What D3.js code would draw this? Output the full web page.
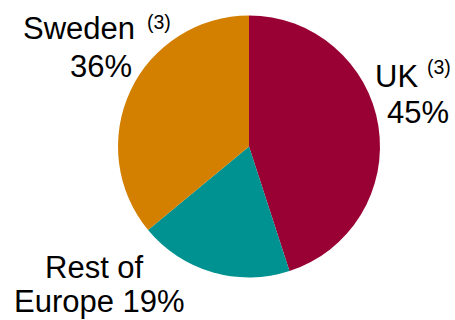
<!DOCTYPE html>
<html>
<head>
<meta charset="utf-8">
<script src="https://cdn.jsdelivr.net/npm/d3@7/dist/d3.min.js"></script>
<style>
  html, body { margin: 0; padding: 0; background: #fff; }
  svg { display: block; }
  text { font-family: "Liberation Sans", Arial, sans-serif; fill: #000; }
</style>
</head>
<body>
<svg id="chart" width="455" height="320"></svg>
<script>
// Share of total by region (percent)
const regions = ["UK", "Rest of Europe", "Sweden"];
const shares = [45, 19, 36];
const colors = ["#990033", "#009290", "#D37F00"];
const footnotes = ["(3)", "", "(3)"];

const svg = d3.select("#chart");
const cx = 249, cy = 146.5, radius = 131;

const pie = d3.pie().sort(null).value(d => d)(shares);
const arc = d3.arc().innerRadius(0).outerRadius(radius);

svg.append("g")
  .attr("transform", `translate(${cx},${cy})`)
  .selectAll("path")
  .data(pie)
  .join("path")
  .attr("d", arc)
  .attr("fill", (d, i) => colors[i]);

// Label placement: left edge and baseline of each line, plus footnote marker
const labelLayout = [
  { x1: 375, y1: 87, x2: 387, y2: 123, fx: 427, fy: 74, lines: ["UK", shares[0] + "%"] },
  { x1: 45, y1: 278, x2: 14, y2: 312, lines: ["Rest of", "Europe " + shares[1] + "%"] },
  { x1: 23, y1: 39, x2: 70, y2: 77, fx: 147, fy: 29, lines: ["Sweden", shares[2] + "%"] }
];

labelLayout.forEach((l, i) => {
  svg.append("text")
    .attr("x", l.x1).attr("y", l.y1)
    .style("font-size", "31px")
    .text(l.lines[0]);
  if (footnotes[i]) {
    svg.append("text")
      .attr("x", l.fx).attr("y", l.fy)
      .style("font-size", "19.5px")
      .text(footnotes[i]);
  }
  svg.append("text")
    .attr("x", l.x2).attr("y", l.y2)
    .style("font-size", "31px")
    .text(l.lines[1]);
});
</script>
</body>
</html>
